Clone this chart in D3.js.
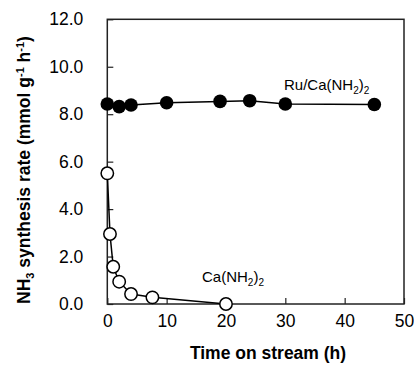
<!DOCTYPE html>
<html>
<head>
<meta charset="utf-8">
<script src="https://cdn.jsdelivr.net/npm/d3@7"></script>
<style>
  body { margin: 0; background: #fff; }
  text { font-family: "Liberation Sans", Arial, sans-serif; fill: #000; }
</style>
</head>
<body>
<div id="chart-area"></div>
<script>
// time on stream (h) and rate (mmol g-1 h-1)
let ruTime = [0, 2, 4, 10, 19, 24, 30, 45];
let ruRate = [8.43, 8.32, 8.39, 8.48, 8.54, 8.57, 8.43, 8.41];
let caTime = [0, 0.45, 1, 2, 4, 7.6, 20];
let caRate = [5.51, 2.95, 1.57, 0.94, 0.42, 0.28, 0.0];
let xTicks = [0, 10, 20, 30, 40, 50];
let yTicks = [0, 2, 4, 6, 8, 10, 12];

let width = 414, height = 365;
let margin = {left: 107.3, right: 10, top: 19.3, bottom: 61};

let svgCanvas = d3.select("#chart-area")
                    .append("svg")
                    .attr("width", width)
                    .attr("height", height);

let x = d3.scaleLinear().domain([0, 50]).range([margin.left, width - margin.right]);
let y = d3.scaleLinear().domain([0, 12]).range([height - margin.bottom, margin.top]);

// frame
svgCanvas.append("rect")
    .attr("x", x(0)).attr("y", y(12))
    .attr("width", x(50) - x(0)).attr("height", y(0) - y(12))
    .attr("fill", "none").attr("stroke", "#222").attr("stroke-width", 1.5);

// x axis (ticks pointing in)
let xAxis = svgCanvas.append("g")
    .attr("transform", "translate(0," + y(0) + ")")
    .call(d3.axisBottom(x).tickValues(xTicks).tickSizeInner(-6).tickSizeOuter(0).tickPadding(11));
xAxis.select(".domain").remove();
xAxis.selectAll("line").attr("stroke", "#222").attr("stroke-width", 1.2);
xAxis.selectAll("text").style("font-size", "17.5px").style("font-family", "Liberation Sans, Arial, sans-serif");

// y axis
let yAxis = svgCanvas.append("g")
    .attr("transform", "translate(" + x(0) + ",0)")
    .call(d3.axisLeft(y).tickValues(yTicks).tickFormat(d3.format(".1f")).tickSizeInner(-6).tickSizeOuter(0).tickPadding(24));
yAxis.select(".domain").remove();
yAxis.selectAll("line").attr("stroke", "#222").attr("stroke-width", 1.2);
yAxis.selectAll("text").style("font-size", "17.5px").style("font-family", "Liberation Sans, Arial, sans-serif");

let line = d3.line().x(d => x(d[0])).y(d => y(d[1]));

let ruData = ruTime.map((t, i) => [t, ruRate[i]]);
let caData = caTime.map((t, i) => [t, caRate[i]]);

svgCanvas.append("path").datum(caData)
    .attr("d", line).attr("fill", "none").attr("stroke", "#000").attr("stroke-width", 1.5);
svgCanvas.append("path").datum(ruData)
    .attr("d", line).attr("fill", "none").attr("stroke", "#000").attr("stroke-width", 1.5);

svgCanvas.selectAll("circle.ru")
    .data(ruData)
    .enter().append("circle")
    .attr("class", "ru")
    .attr("cx", d => x(d[0])).attr("cy", d => y(d[1]))
    .attr("r", 6.8)
    .attr("fill", "#000");

svgCanvas.selectAll("circle.ca")
    .data(caData)
    .enter().append("circle")
    .attr("class", "ca")
    .attr("cx", d => x(d[0])).attr("cy", d => y(d[1]))
    .attr("r", 6.2)
    .attr("fill", "#fff").attr("stroke", "#000").attr("stroke-width", 1.5);

// series labels
function chemLabel(tx, ty, prefix) {
    let t = svgCanvas.append("text").attr("x", tx).attr("y", ty).style("font-size", "15px");
    t.append("tspan").text(prefix + "Ca(NH");
    t.append("tspan").attr("dy", 4).style("font-size", "10px").text("2");
    t.append("tspan").attr("dy", -4).text(")");
    t.append("tspan").attr("dy", 4).style("font-size", "10px").text("2");
}
chemLabel(284, 90, "Ru/");
chemLabel(202, 282, "");

// axis titles
svgCanvas.append("text")
    .attr("x", 268).attr("y", 359)
    .attr("text-anchor", "middle")
    .style("font-size", "17.5px").style("font-weight", "bold")
    .text("Time on stream (h)");

let yt = svgCanvas.append("text")
    .attr("transform", "translate(30,170) rotate(-90)")
    .attr("text-anchor", "middle")
    .style("font-size", "17.5px").style("font-weight", "bold");
yt.append("tspan").text("NH");
yt.append("tspan").attr("dy", 4).style("font-size", "11px").text("3");
yt.append("tspan").attr("dy", -4).text(" synthesis rate (mmol g");
yt.append("tspan").attr("dy", -6).style("font-size", "11px").text("-1");
yt.append("tspan").attr("dy", 6).text(" h");
yt.append("tspan").attr("dy", -6).style("font-size", "11px").text("-1");
yt.append("tspan").attr("dy", 6).text(")");
</script>
</body>
</html>
